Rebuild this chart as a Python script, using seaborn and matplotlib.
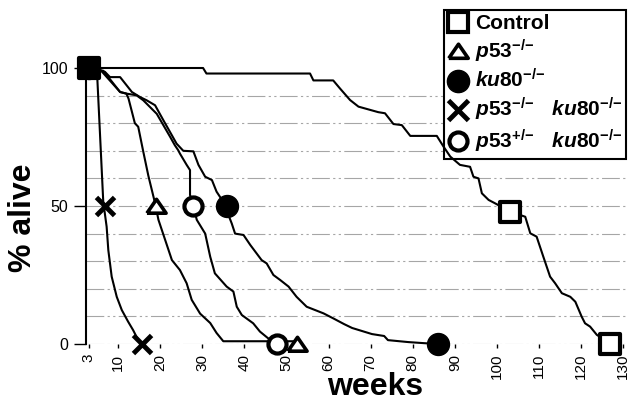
import matplotlib
matplotlib.use("Agg")
import matplotlib.pyplot as plt
import seaborn as sns
import pandas as pd
from matplotlib.lines import Line2D

# ---------------- data ----------------
week_ticks = [3, 10, 20, 30, 40, 50, 60, 70, 80, 90, 100, 110, 120, 130]
alive_ticks = [0, 50, 100]

ctrl_weeks = [3, 30.2, 31, 55.6, 56.4, 61.1, 62.7, 65.1, 67.1, 71.8, 73.4, 75.4, 77.4, 79.4, 85.7,
              87.3, 88.9, 91.2, 93.6, 94.4, 95.6, 96.4, 98.0, 99.5, 103.1, 106.7, 107.9, 109.4,
              111.0, 112.6, 113.8, 115.4, 117.4, 118.6, 120.1, 120.9, 122.1, 123.7, 127.2]
ctrl_alive = [100, 100, 98, 98, 95.5, 95.5, 92.6, 88.4, 86, 84, 83.6, 79.7, 79.3, 75.4, 75.4,
              71.5, 67.9, 64.9, 64.2, 60.6, 60, 54.6, 52.2, 51, 48, 46.1, 40.1, 38.9,
              31.6, 24.4, 22, 18.4, 17.1, 15.3, 9.9, 7.5, 6.3, 3.3, 0]

p53_weeks = [3, 6, 10.5, 12.0, 12.5, 14.0, 14.8, 16.0, 17.2, 18.0, 18.8, 19.6, 21.2, 22.8,
             24.7, 26.3, 27.5, 29.5, 31.9, 33.4, 35.0, 52.0]
p53_alive = [100, 99, 91.3, 90.7, 88.9, 80, 78.7, 69.7, 61, 56, 51, 45, 37.7, 30.4,
             26.8, 22, 16, 11, 7.6, 4, 1, 1]

ku80_weeks = [3, 6.9, 8.1, 10.5, 13.3, 15.2, 16.8, 18.8, 20.8, 22.8, 23.9, 25.5, 27.9, 29.1,
              30.7, 32.3, 33.4, 35.0, 37.0, 37.8, 39.8, 41.4, 44.1, 45.3, 46.9, 48.5, 50.5,
              52.4, 54.8, 56.8, 58.8, 61.1, 63.7, 65.6, 70.3, 73.2, 74.1, 78.9, 82.7, 86.0]
ku80_alive = [100, 98.6, 96.7, 96.7, 91.3, 89.5, 88.3, 86.5, 81, 75.6, 72.6, 70, 69.8, 64.9,
              60.6, 59.4, 55.2, 51.5, 43.7, 40, 39.5, 35.9, 30.4, 29.2, 25, 23.2, 20.8,
              17.1, 13.5, 12.3, 11.1, 9.3, 7.2, 5.8, 3.6, 2.9, 1.4, 0.7, 0.3, 0]

dko_weeks = [3, 5.0, 6.5, 7.3, 7.7, 8.5, 9.7, 10.9, 12.4, 13.6, 14.4, 15.6]
dko_alive = [100, 99, 51.5, 42.5, 34, 24.4, 17.1, 12.3, 8.1, 5, 2.6, 0]

het_weeks = [3, 6.5, 10.5, 12.1, 14.4, 16.0, 19.2, 20.8, 22.4, 23.5, 24.3, 24.7, 26.3, 27.1,
             27.1, 27.9, 28.7, 30.7, 31.9, 33.0, 35.8, 37.4, 38.2, 39.4, 42.1, 43.7, 45.7, 47.7]
het_alive = [100, 99, 91.3, 90.7, 90.1, 88.3, 83.4, 79.2, 75, 72, 70.2, 69, 64.9, 63,
             54, 50, 45, 40, 31.6, 25.6, 20.8, 19, 13.5, 10.5, 7.5, 4.5, 2, 0]

# marker points: start, median (50 % point), last death
ctrl_mark_weeks = [3, 103.1, 126.9]
ctrl_mark_alive = [100, 48, 0]
p53_mark_weeks = [3, 19.0, 52.5]
p53_mark_alive = [100, 50, 0]
ku80_mark_weeks = [3, 35.8, 86.0]
ku80_mark_alive = [100, 50, 0]
dko_mark_weeks = [3, 6.9, 15.6]
dko_mark_alive = [100, 50, 0]
het_mark_weeks = [3, 27.9, 47.7]
het_mark_alive = [100, 50, 0]

labels = ["Control",
          r"$\mathit{p53}^{\mathit{{-}/{-}}}$",
          r"$\mathit{ku80}^{\mathit{{-}/{-}}}$",
          r"$\mathit{p53}^{\mathit{{-}/{-}}}\ \ \ \mathit{ku80}^{\mathit{{-}/{-}}}$",
          r"$\mathit{p53}^{\mathit{{+}/{-}}}\ \ \ \mathit{ku80}^{\mathit{{-}/{-}}}$"]

# ---------------- style ----------------
sns.set_style("white")
plt.rcParams["font.family"] = ["Liberation Sans", "DejaVu Sans"]
plt.rcParams["text.color"] = "black"
plt.rcParams["xtick.color"] = "black"
plt.rcParams["ytick.color"] = "black"
plt.rcParams["mathtext.fontset"] = "custom"
plt.rcParams["mathtext.it"] = "Liberation Sans:italic:bold"
plt.rcParams["mathtext.rm"] = "Liberation Sans:bold"
plt.rcParams["mathtext.bf"] = "Liberation Sans:bold"

tri = [(-1, -0.7), (1, -0.7), (0, 0.75), (-1, -0.7)]

fig = plt.figure(figsize=(6.28, 4.03), dpi=100)
ax = fig.add_axes([86 / 628, 59 / 403, 542 / 628, 276 / 403])

# grid lines
for g in range(0, 100, 10):
    ax.axhline(g, color="#a6a6a6", lw=0.8, ls=(0, (16, 3, 2, 3, 2, 3)), zorder=1)

series = [
    (ctrl_weeks, ctrl_alive), (p53_weeks, p53_alive), (ku80_weeks, ku80_alive),
    (dko_weeks, dko_alive), (het_weeks, het_alive),
]
for w, a in series:
    sns.lineplot(x=w, y=a, ax=ax, color="black", lw=1.5, sort=False, estimator=None,
                 zorder=6, clip_on=False)

common = dict(ax=ax, clip_on=False, legend=False)
sns.scatterplot(x=ctrl_mark_weeks, y=ctrl_mark_alive, marker="s", s=200, zorder=7.0,
                facecolor="white", edgecolor="black", linewidth=3, **common)
sns.scatterplot(x=p53_mark_weeks, y=p53_mark_alive, marker=tri, s=190, zorder=7.1,
                facecolor="white", edgecolor="black", linewidth=2.6, **common)
sns.scatterplot(x=het_mark_weeks, y=het_mark_alive, marker="o", s=170, zorder=7.2,
                facecolor="white", edgecolor="black", linewidth=3, **common)
sns.scatterplot(x=ku80_mark_weeks, y=ku80_mark_alive, marker="o", s=250, zorder=7.3,
                facecolor="black", edgecolor="black", linewidth=1, **common)
sns.scatterplot(x=dko_mark_weeks, y=dko_mark_alive, marker="x", s=170, zorder=7.4,
                color="black", linewidth=3.5, **common)

ax.set_xlim(2.4, 131.1)
ax.set_ylim(0, 100)
ax.set_xticks(week_ticks)
ax.set_xticklabels([str(t) for t in week_ticks], rotation=90, fontsize=11)
ax.set_yticks(alive_ticks)
ax.set_yticklabels([str(t) for t in alive_ticks], fontsize=11.5)
ax.tick_params(axis="x", bottom=True, length=3, width=1, pad=4, color="black",
               labelcolor="black")
ax.tick_params(axis="y", left=True, length=9, width=1, pad=4, color="black",
               labelcolor="black")
for s in ["top", "right", "bottom"]:
    ax.spines[s].set_visible(False)
ax.spines["left"].set_color("black")
ax.spines["left"].set_linewidth(1.5)
ax.set_xlabel("")
ax.set_ylabel("")

fig.text(375 / 628, 1 - 387 / 403, "weeks", ha="center", va="center",
         fontsize=23, fontweight="bold", color="black")
fig.text(23 / 628, 1 - 218 / 403, "% alive", ha="center", va="center",
         rotation=90, fontsize=23, fontweight="bold", color="black")

handles = [
    Line2D([], [], ls="none", marker="s", ms=15, mfc="white", mec="black", mew=3),
    Line2D([], [], ls="none", marker=tri, ms=14, mfc="white", mec="black", mew=2.6),
    Line2D([], [], ls="none", marker="o", ms=16, mfc="black", mec="black"),
    Line2D([], [], ls="none", marker="x", ms=14, mec="black", mew=3.5),
    Line2D([], [], ls="none", marker="o", ms=13, mfc="white", mec="black", mew=3),
]
leg = ax.legend(handles, labels, loc="upper right", bbox_to_anchor=(0.997, 0.975),
                bbox_transform=fig.transFigure, frameon=True, fancybox=False,
                edgecolor="black", framealpha=1, borderpad=0.2, handletextpad=0.3,
                labelspacing=0.2, handlelength=1.0, borderaxespad=0,
                prop={"weight": "bold", "size": 15})
leg.get_frame().set_linewidth(1.5)
leg.set_zorder(5)
for t in leg.get_texts():
    t.set_color("black")

fig.savefig("out.png", dpi=100)
